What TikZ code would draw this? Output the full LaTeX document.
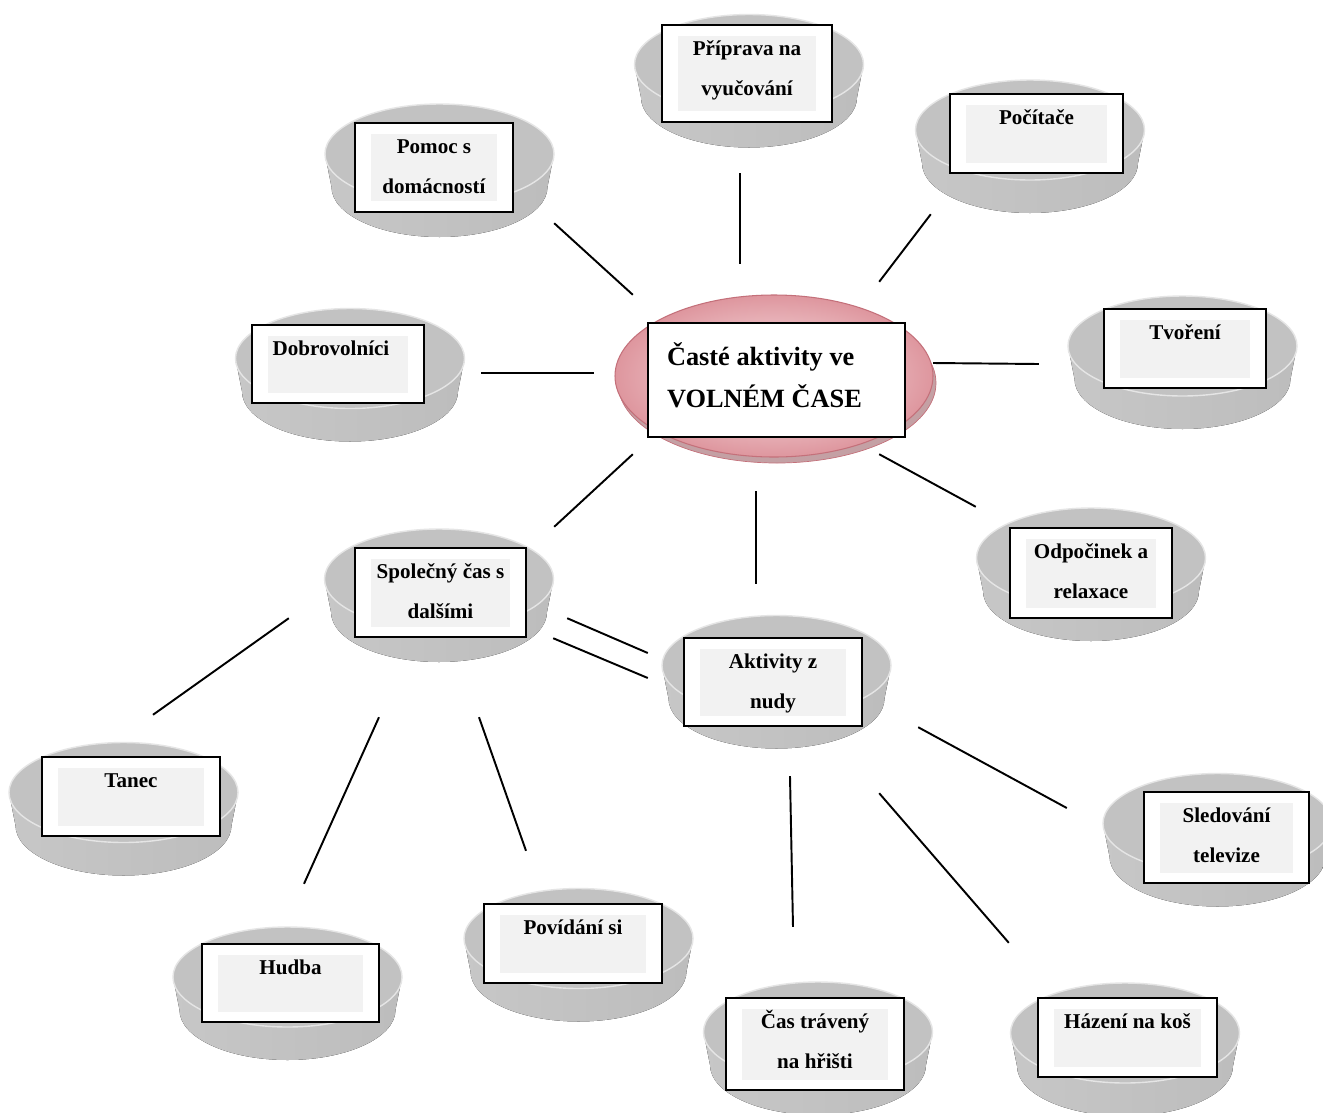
\documentclass[tikz,border=0pt]{standalone}
\usepackage{fontspec}
\setmainfont{Liberation Serif}
\usetikzlibrary{backgrounds}
\definecolor{ruzovasvetla}{RGB}{251,236,238}
\definecolor{ruzovatmava}{RGB}{222,150,158}
\definecolor{ruzovaokraj}{RGB}{196,112,122}
\definecolor{ruzovaspodek}{RGB}{196,160,164}
\tikzset{
x=0.02cm, y=-0.02cm,
spoj/.style={line width=1.1pt},
ramecek/.style={draw, line width=1.4pt, fill=white, inner sep=0pt},
krabice/.style={ramecek,
  path picture={\fill[black!5] ([shift={(0.32cm,-0.21cm)}]path picture bounding box.north west)
    rectangle ([shift={(-0.32cm,0.21cm)}]path picture bounding box.south east);}},
popis/.style={anchor=north, yshift=-2.15pt, inner sep=0pt, align=center,
  font=\fontsize{12}{22.5}\selectfont\bfseries},
hlavnipopis/.style={anchor=north west, xshift=11.3pt, yshift=-8.3pt, inner sep=0pt, align=left,
  font=\fontsize{15}{23.6}\selectfont\bfseries},
disk/.pic={
  \fill[left color=black!22, middle color=black!58, right color=black!26]
    (-114.5,-16.5) -- (-108,16.5) arc[start angle=180, end angle=0, x radius=108, y radius=50]
    -- (114.5,-16.5) arc[start angle=0, end angle=180, x radius=114.5, y radius=50] -- cycle;
  \draw[fill=black!24, draw=black!10, line width=0.8pt] (0,-16.5) ellipse[x radius=114.5, y radius=50];
}}

\begin{document}
\begin{tikzpicture}
\useasboundingbox (0,0) rectangle (1323,1113);

% stred
\node[ramecek, minimum width=5.14cm, minimum height=2.28cm,
  label={[hlavnipopis]north west:\strut Časté aktivity ve\\VOLNÉM ČASE}] (stred) at (776.5,380) {};

% okolo
\node[krabice, minimum width=3.4cm, minimum height=1.94cm,
  label={[popis]north:\strut Příprava na\\vyučování}] (prip) at (747,73.5) {};
\node[krabice, minimum width=3.46cm, minimum height=1.58cm,
  label={[popis]north:\strut Počítače}] (pocitace) at (1036.5,133.5) {};
\node[krabice, minimum width=3.16cm, minimum height=1.78cm,
  label={[popis]north:\strut Pomoc s\\domácností}] (pomoc) at (434,167.5) {};
\node[krabice, minimum width=3.44cm, minimum height=1.56cm,
  label={[popis, xshift=-4pt]north:\strut Dobrovolníci}] (dobro) at (338,364) {};
\node[krabice, minimum width=3.24cm, minimum height=1.58cm,
  label={[popis]north:\strut Tvoření}] (tvoreni) at (1185,348.5) {};
\node[krabice, minimum width=3.24cm, minimum height=1.8cm,
  label={[popis]north:\strut Odpočinek a\\relaxace}] (odpocinek) at (1091,573) {};
\node[krabice, minimum width=3.42cm, minimum height=1.78cm,
  label={[popis]north:\strut Společný čas s\\dalšími}] (spolecny) at (440.5,592.5) {};
\node[krabice, minimum width=3.56cm, minimum height=1.76cm,
  label={[popis]north:\strut Aktivity z\\nudy}] (aktivity) at (773,682) {};
\node[krabice, minimum width=3.56cm, minimum height=1.58cm,
  label={[popis]north:\strut Tanec}] (tanec) at (131,796.5) {};
\node[krabice, minimum width=3.3cm, minimum height=1.82cm,
  label={[popis]north:\strut Sledování\\televize}] (sledovani) at (1226.5,837.5) {};
\node[krabice, minimum width=3.54cm, minimum height=1.56cm,
  label={[popis]north:\strut Hudba}] (hudba) at (290.5,983) {};
\node[krabice, minimum width=3.56cm, minimum height=1.58cm,
  label={[popis]north:\strut Povídání si}] (povidani) at (573,943.5) {};
\node[krabice, minimum width=3.56cm, minimum height=1.84cm,
  label={[popis]north:\strut Čas trávený\\na hřišti}] (cas) at (815,1044) {};
\node[krabice, minimum width=3.58cm, minimum height=1.58cm,
  label={[popis]north:\strut Házení na koš}] (hazeni) at (1127.5,1037.5) {};

% podklady
\begin{scope}[on background layer]
\fill[white] (0,0) rectangle (1323,1113);
\fill[ruzovaspodek, draw=ruzovaokraj] (777,383) ellipse[x radius=159, y radius=80];
\shadedraw[inner color=ruzovasvetla, outer color=ruzovatmava, draw=ruzovaokraj, line width=0.6pt]
  (774,376) ellipse[x radius=159, y radius=81];
\foreach \n/\dx/\dy in {prip/2/7.5, pocitace/-6.5/13, pomoc/5.5/3, dobro/12/11,
    tvoreni/-2.5/14, odpocinek/0/1.5, spolecny/-1.5/3, aktivity/3.5/0,
    tanec/-7.5/12.5, sledovani/-9/2.5, hudba/-3/10.5, povidani/5.5/11.5,
    cas/3/4.5, hazeni/-2.5/12}
  \pic at ([shift={(\dx,\dy)}]\n) {disk};
\end{scope}

% spojnice
\draw[spoj] ([shift={(-7,50)}]prip.south) -- ([shift={(-36.5,-58)}]stred.north);
\draw[spoj] ([shift={(40,10)}]pomoc.south east) -- ([shift={(-14,-27)}]stred.north west);
\draw[spoj] ([shift={(-18,40)}]pocitace.south west) -- ([shift={(-27,-40)}]stred.north east);
\draw[spoj] ([shift={(56,9)}]dobro.east) -- ([shift={(-53,-7)}]stred.west);
\draw[spoj] ([shift={(27,-17)}]stred.east) -- ([shift={(-64,15.5)}]tvoreni.west);
\draw[spoj] ([shift={(-14,16)}]stred.south west) -- ([shift={(27,-20)}]spolecny.north east);
\draw[spoj] ([shift={(-20.5,53)}]stred.south) -- ([shift={(-17,-53)}]aktivity.north);
\draw[spoj] ([shift={(-27,16)}]stred.south east) -- ([shift={(-33,-20)}]odpocinek.north west);
\draw[spoj] ([shift={(40,-20)}]spolecny.south east) -- ([shift={(-35,-29)}]aktivity.west);
\draw[spoj] ([shift={(26,0)}]spolecny.south east) -- ([shift={(-35,-4)}]aktivity.west);
\draw[spoj] ([shift={(-65,-20)}]spolecny.south west) -- ([shift={(22,-41)}]tanec.north);
\draw[spoj] ([shift={(-61.5,79)}]spolecny.south) -- ([shift={(13.5,-59)}]hudba.north);
\draw[spoj] ([shift={(38.5,79)}]spolecny.south) -- ([shift={(-47,-52)}]povidani.north);
\draw[spoj] ([shift={(55,0)}]aktivity.south east) -- ([shift={(-76,-29.5)}]sledovani.west);
\draw[spoj] ([shift={(17,49)}]aktivity.south) -- ([shift={(-22,-70)}]cas.north);
\draw[spoj] ([shift={(16,66)}]aktivity.south east) -- ([shift={(-28,-54)}]hazeni.north west);
\end{tikzpicture}
\end{document}
